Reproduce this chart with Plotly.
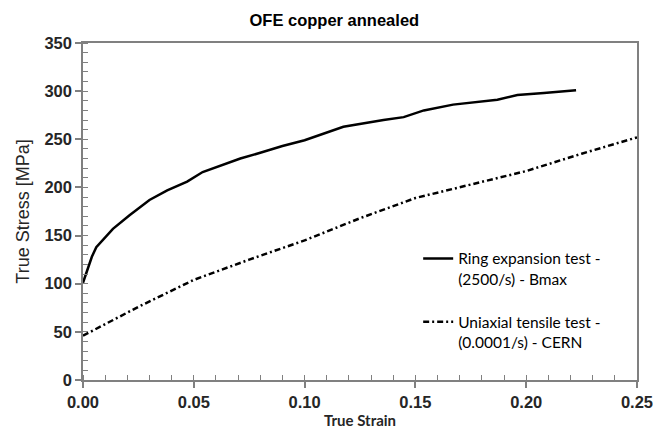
import plotly.graph_objects as go

# Ring expansion test - (2500/s) - Bmax
ring_strain = [0.0, 0.0015, 0.004, 0.006, 0.0097, 0.0135, 0.021, 0.030, 0.038, 0.047,
               0.054, 0.063, 0.071, 0.080, 0.090, 0.100, 0.1175, 0.1356, 0.1447, 0.1538,
               0.167, 0.187, 0.196, 0.208, 0.2225]
ring_stress = [101, 111, 128, 138, 147, 157, 171, 187, 197, 206,
               216, 223, 230, 236, 243, 249, 263, 270, 273, 280,
               286, 291, 296, 298, 301]

# Uniaxial tensile test - (0.0001/s) - CERN
tens_strain = [0.0, 0.025, 0.05, 0.075, 0.10, 0.125, 0.15, 0.175, 0.20, 0.225, 0.25]
tens_stress = [46, 76, 104, 125, 145, 168, 189, 203, 217, 235, 252]

title_text = "OFE copper annealed"
x_title = "True Strain"
y_title = "True Stress [MPa]"
name_ring = "Ring expansion test -<br>(2500/s) - Bmax<br> "
name_tens = "Uniaxial tensile test -<br>(0.0001/s) - CERN"

fig = go.Figure()
fig.add_trace(go.Scatter(x=ring_strain, y=ring_stress, mode="lines", name=name_ring,
                         line=dict(color="black", width=2.5)))
fig.add_trace(go.Scatter(x=tens_strain, y=tens_stress, mode="lines", name=name_tens,
                         line=dict(color="black", width=2.5, dash="6px,3px,2px,3px")))

tickfont = dict(family="Liberation Sans, Arial", size=16.5, color="#262626", weight="bold")

fig.update_layout(
    width=653, height=434,
    margin=dict(l=83, r=16, t=43, b=54),
    paper_bgcolor="white", plot_bgcolor="white",
    title=dict(text=title_text, x=0.512, xanchor="center",
               y=1 - 20 / 434, yref="container", yanchor="middle",
               font=dict(family="Liberation Sans, Arial", size=16.5, color="black", weight="bold")),
    showlegend=True,
    legend=dict(x=0.605, y=0.41, xanchor="left", yanchor="top",
                bgcolor="rgba(0,0,0,0)", valign="top",
                font=dict(family="Lato, Open Sans", size=15.5, color="black"),
                itemwidth=30, tracegroupgap=0),
    xaxis=dict(range=[0, 0.25], dtick=0.05, tickformat=".2f", automargin=False,
               ticklabeloverflow="allow",
               showgrid=False, zeroline=False,
               showline=True, linecolor="#808080", linewidth=1.5, mirror=True,
               ticks="outside", ticklen=6, tickcolor="#808080", tickwidth=1.5,
               minor=dict(dtick=0.01, ticks="inside", ticklen=5, tickcolor="#808080", tickwidth=1),
               tickfont=tickfont,
               title=dict(text=x_title, standoff=6,
                          font=dict(family="Lato, Open Sans", size=15, color="#262626", weight="bold"))),
    yaxis=dict(range=[0, 350], dtick=50, automargin=False,
               ticklabeloverflow="allow",
               showgrid=False, zeroline=False,
               showline=True, linecolor="#808080", linewidth=1.5, mirror=True,
               ticks="outside", ticklen=6, tickcolor="#808080", tickwidth=1.5,
               minor=dict(dtick=10, ticks="inside", ticklen=5, tickcolor="#808080", tickwidth=1),
               tickfont=tickfont,
               title=dict(text=y_title, standoff=10,
                          font=dict(family="Liberation Sans, Arial", size=18, color="#262626"))),
)

fig.write_html("out.html", config={"displayModeBar": False},
               post_script="document.body.style.margin='0';")
